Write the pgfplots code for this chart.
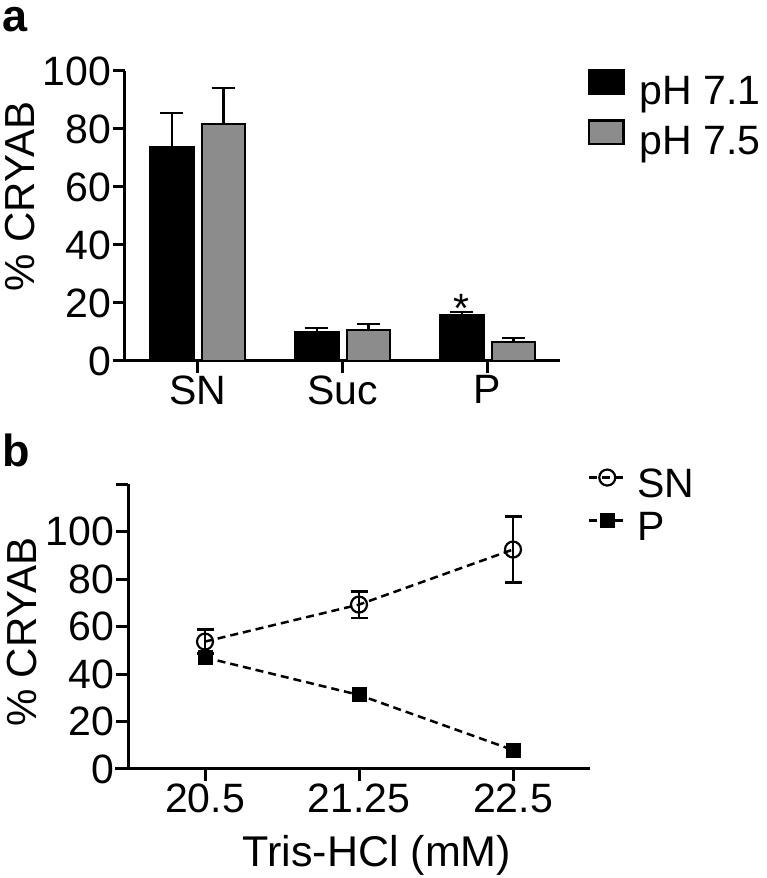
\documentclass[border=0pt]{standalone}
\usepackage{pgfplots}
\pgfplotsset{compat=1.18}
\usepackage{fontspec}
\setmainfont{Liberation Sans}
\definecolor{barGray}{RGB}{140,140,140}
\newcommand{\bigfont}{\fontsize{41}{49}\selectfont}

\pgfplotsset{
  prismaxis/.style={
    scale only axis,
    clip=false,
    axis x line=bottom, axis y line=left,
    axis line style={line width=3pt, -},
    tick style={line width=3pt, black},
    tick align=outside,
    major tick length=12pt,
    font=\bigfont,
    /pgf/number format/assume math mode=true,
    xticklabel style={inner sep=2.5pt, font=\bigfont},
    yticklabel style={inner sep=1.5pt, font=\bigfont},
    legend cell align=left,
  },
}

\begin{document}
\begin{tikzpicture}[x=1pt,y=1pt]
\useasboundingbox (0,0) rectangle (767,878);
\node[anchor=base west, inner sep=0pt, font=\fontsize{45}{45}\selectfont\bfseries] at (2,846) {a};
\node[anchor=base west, inner sep=0pt, font=\fontsize{45}{45}\selectfont\bfseries] at (2,411) {b};

% ---------------- panel a ----------------
\begin{axis}[
  prismaxis,
  at={(125pt,517pt)}, anchor=south west,
  width=435pt, height=290pt,
  xmin=-0.5, xmax=2.5, ymin=0, ymax=100,
  xtick={0,1,2}, xticklabels={SN,Suc,P},
  ytick={0,20,...,100},
  ybar=8.5pt, bar width=43pt,
  ylabel={\% CRYAB},
  every axis y label/.style={at={(axis description cs:-0.207,0.566)}, rotate=90, anchor=base, font=\fontsize{42}{49}\selectfont},
  legend style={at={(axis description cs:1.064,1.007)}, anchor=north west, draw=none, fill=none,
    inner sep=0pt, outer sep=0pt, column sep=15pt, row sep=0pt, font=\bigfont,
    nodes={inner sep=0pt, text height=30pt, text depth=15pt}},
  legend image code/.code={\draw[#1, line width=2.5pt] (1.25pt,3.25pt) rectangle (35.75pt,26.75pt);},
]
\addplot[fill=black, draw=black, line width=2.5pt,
  error bars/.cd, y dir=plus, y explicit,
  error bar style={line width=2.5pt, black},
  error mark options={rotate=90, line width=2.5pt, mark size=11.5pt, black}]
  coordinates {(0,73.8) +- (0,11.7) (1,9.8) +- (0,1.6) (2,15.9) +- (0,1.0)};
\addplot[fill=barGray, draw=black, line width=2.5pt,
  error bars/.cd, y dir=plus, y explicit,
  error bar style={line width=2.5pt, black},
  error mark options={rotate=90, line width=2.5pt, mark size=11.5pt, black}]
  coordinates {(0,81.7) +- (0,12.4) (1,10.7) +- (0,2.0) (2,6.6) +- (0,1.3)};
\legend{pH 7.1, pH 7.5}
\draw[line width=3pt] (axis cs:-0.5,0) -- ++(-12pt,0pt);
\node[anchor=base, inner sep=0pt, font=\bigfont] at (axis cs:2,13.3) [xshift=-25.75pt] {*};
\end{axis}

% ---------------- panel b ----------------
\begin{axis}[
  prismaxis,
  at={(128pt,109pt)}, anchor=south west,
  width=462pt, height=284.7pt,
  xmin=-0.5, xmax=2.5, ymin=0, ymax=120,
  xtick={0,1,2}, xticklabels={20.5,21.25,22.5},
  ytick={0,20,...,120}, yticklabels={0,20,40,60,80,100,{}},
  xlabel={Tris-HCl (mM)},
  every axis x label/.style={at={(axis description cs:0.539,-0.341)}, anchor=base, font=\fontsize{43}{49}\selectfont},
  ylabel={\% CRYAB},
  every axis y label/.style={at={(axis description cs:-0.197,0.481)}, rotate=90, anchor=base, font=\fontsize{42}{49}\selectfont},
  legend style={at={(axis description cs:0.9957,1.057)}, anchor=north west, draw=none, fill=none,
    inner sep=0pt, outer sep=0pt, column sep=11pt, row sep=0pt, font=\bigfont,
    nodes={inner sep=0pt, text height=29pt, text depth=14pt}},
  legend image code/.code={\draw[mark repeat=2, mark phase=2, #1] plot coordinates {(0pt,12pt) (18pt,12pt) (36pt,12pt)};},
]
\addplot[black, line width=2.5pt, dash pattern=on 8pt off 5pt,
  mark=o, mark size=8pt, mark options={solid, line width=2.2pt},
  error bars/.cd, y dir=both, y explicit,
  error bar style={solid, line width=2.5pt, black},
  error mark options={rotate=90, solid, line width=2.5pt, mark size=8.5pt, black}]
  coordinates {(0,53.7) +- (0,5.0) (1,69.3) +- (0,5.6) (2,92.5) +- (0,13.9)};
\addplot[black, line width=2.5pt, dash pattern=on 8pt off 5pt,
  mark=square*, mark size=6.5pt, mark options={solid, line width=2pt},
  error bars/.cd, y dir=both, y explicit,
  error bar style={solid, line width=2.5pt, black},
  error mark options={rotate=90, solid, line width=2.5pt, mark size=6.5pt, black}]
  coordinates {(0,47.0) +- (0,2.5) (1,31.2) +- (0,0.8) (2,8.0) +- (0,0.8)};
\legend{SN, P}
\draw[line width=3pt] (axis cs:-0.5,0) -- ++(-13pt,0pt);
\end{axis}
\end{tikzpicture}
\end{document}
